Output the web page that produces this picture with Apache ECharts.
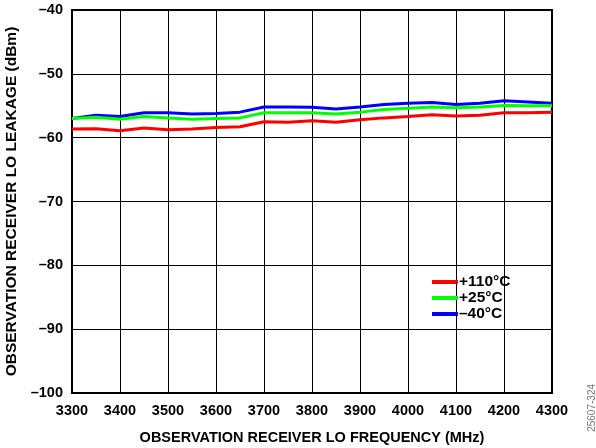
<!DOCTYPE html>
<html><head><meta charset="utf-8">
<script src="https://cdn.jsdelivr.net/npm/echarts@6/dist/echarts.min.js"></script>
<style>html,body{margin:0;padding:0;background:#fff}#c{width:596px;height:448px}</style>
</head><body><div id="c"></div>
<script>
const freqs = [3300,3350,3400,3450,3500,3550,3600,3650,3700,3750,3800,3850,3900,3950,4000,4050,4100,4150,4200,4250,4300];
const hot110 = [-58.65,-58.6,-58.9,-58.5,-58.75,-58.65,-58.4,-58.3,-57.5,-57.6,-57.35,-57.6,-57.2,-56.9,-56.7,-56.4,-56.6,-56.5,-56.1,-56.1,-56.0];
const room25 = [-57.0,-56.8,-57.1,-56.7,-56.9,-57.1,-57.0,-56.9,-56.1,-56.1,-56.1,-56.3,-56.0,-55.6,-55.4,-55.2,-55.3,-55.2,-54.95,-55.0,-55.0];
const cold40 = [-57.0,-56.5,-56.7,-56.1,-56.1,-56.3,-56.2,-56.0,-55.2,-55.2,-55.25,-55.5,-55.2,-54.8,-54.6,-54.5,-54.8,-54.6,-54.2,-54.4,-54.6];
const seriesNames = ['+110°C','+25°C','–40°C'];
const colors = ['#ff0000','#00ff00','#0000ff'];
const font = 'Liberation Sans, Arial, sans-serif';
const chart = echarts.init(document.getElementById('c'));
const mk = (arr) => freqs.map((f,i)=>[f,arr[i]]);
chart.setOption({
  animation:false,
  grid:{left:72,right:44,top:10,bottom:55,containLabel:false,outerBoundsMode:'none',show:true,borderColor:'#000',borderWidth:2},
  legend:{
    left:432, top:274, orient:'vertical', itemGap:0, itemWidth:26, itemHeight:4,
    icon:'rect', padding:0,
    textStyle:{fontFamily:font,fontWeight:'bold',fontSize:15.5,color:'#000',padding:[0,0,0,-4]},
    data:seriesNames
  },
  xAxis:{
    type:'value', min:3300, max:4300, interval:100,
    name:'OBSERVATION RECEIVER LO FREQUENCY (MHz)', nameLocation:'middle', nameGap:37,
    nameTextStyle:{fontFamily:font,fontWeight:'bold',fontSize:14.5,color:'#000'},
    axisLine:{show:false}, axisTick:{show:false},
    axisLabel:{fontFamily:font,fontWeight:'bold',fontSize:14.5,color:'#000',margin:10,
      formatter:v=>String(v)},
    splitLine:{show:true,lineStyle:{color:'#000',width:1}}
  },
  yAxis:{
    type:'value', min:-100, max:-40, interval:10,
    name:'OBSERVATION RECEIVER LO LEAKAGE (dBm)', nameLocation:'middle', nameGap:48, nameRotate:90,
    nameTextStyle:{fontFamily:font,fontWeight:'bold',fontSize:15.5,color:'#000'},
    axisLine:{show:false}, axisTick:{show:false},
    axisLabel:{fontFamily:font,fontWeight:'bold',fontSize:14.5,color:'#000',margin:9,
      formatter:v=>String(v).replace('-','–')},
    splitLine:{show:true,lineStyle:{color:'#000',width:1}}
  },
  graphic:[{type:'text',left:587,top:384,rotation:Math.PI/2,
    style:{text:'25607-324',fontFamily:font,fontSize:10,fill:'#777'}}],
  series:[hot110,room25,cold40].map((d,i)=>({
    name:seriesNames[i], type:'line', data:mk(d), showSymbol:false,
    lineStyle:{color:colors[i],width:3}, itemStyle:{color:colors[i]}, z:10-i
  }))
});
</script></body></html>
